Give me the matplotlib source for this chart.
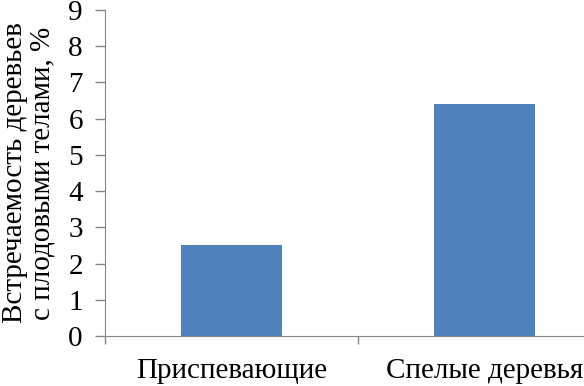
import matplotlib.pyplot as plt

categories = ["Приспевающие", "Спелые деревья"]
values = [2.5, 6.4]
yticks = list(range(0, 10))

plt.rcParams['font.family'] = ['Liberation Serif', 'DejaVu Serif']

fig = plt.figure(figsize=(5.84, 3.86), dpi=100)
ax = fig.add_axes([105 / 584, 50 / 386, 506 / 584, 326 / 386])

x = range(len(categories))
ax.bar(x, values, width=0.4, color="#4F81BD")

ax.set_xlim(-0.5, 1.5)
ax.set_ylim(0, 9)
ax.set_yticks(yticks)
# category boundaries get the tick marks, names sit between them
ax.set_xticks([-0.5, 0.5, 1.5])
ax.set_xticklabels([])
ax.set_xticks(list(x), minor=True)
ax.set_xticklabels(categories, minor=True)
ax.tick_params(axis='x', which='minor', length=0, pad=16, labelsize=21)
ax.tick_params(axis='x', which='major', length=6, color="#868686", width=1)
ax.tick_params(axis='y', length=7, color="#868686", width=1, pad=9, labelsize=21)

for side in ["top", "right"]:
    ax.spines[side].set_visible(False)
for side in ["left", "bottom"]:
    ax.spines[side].set_color("#868686")

ax.set_ylabel("Встречаемость деревьев\nс плодовыми телами, %", fontsize=21,
              linespacing=1.1, labelpad=9)

fig.savefig("out.png", dpi=100)
